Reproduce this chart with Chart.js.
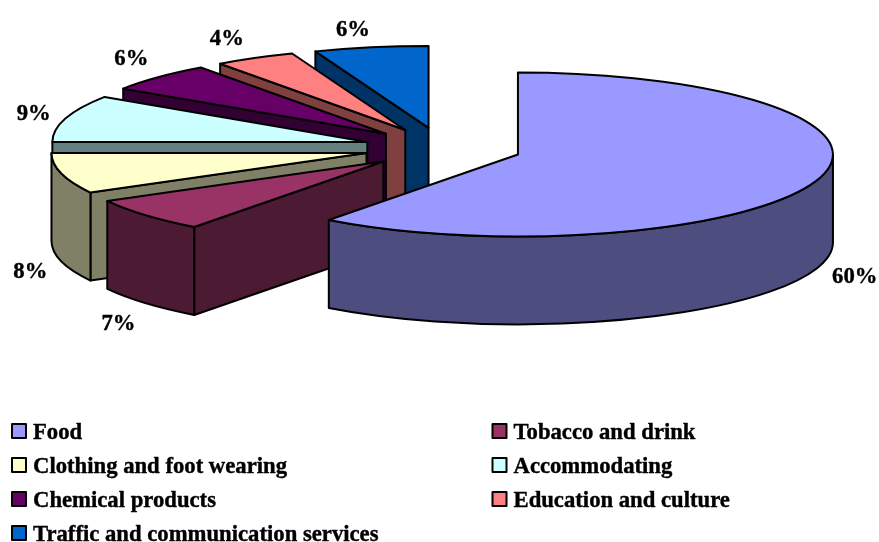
<!DOCTYPE html>
<html>
<head>
<meta charset="utf-8">
<style>html,body{margin:0;padding:0;background:#fff}canvas{display:block}</style>
<script src="https://cdn.jsdelivr.net/npm/chart.js@4"></script>
</head>
<body>
<canvas id="c" width="879" height="542"></canvas>
<script>
const categories = ['Food','Tobacco and drink','Clothing and foot wearing','Accommodating','Chemical products','Education and culture','Traffic and communication services'];
const shares = [60.25,6.75,8.0,9.3,5.7,4.15,5.85];
const colors = ['#9999FF','#993366','#FFFFCC','#CCFFFF','#660066','#FF8080','#0066CC'];
const wallColors = ['#4D4D80','#4D1A33','#808066','#668080','#330033','#804040','#003366'];
const labelNudges = [[38,9],[-27,21],[-31,11],[-32,-4],[-27,-18],[-28,-19],[-18,-17]];

const TILT = 0.26, DEPTH = 88, LINE = 2, EXPLODE = 79;
const FONT = 'bold 22.7px "Liberation Serif"';
const LEGEND = {cols:[12,492.5], rowY:[431,465,499,533], box:14, gap:7, textShift:2};

function sliceGeom(chart,i){
  const arc = chart.getDatasetMeta(0).data[i];
  const p = arc.getProps(['x','y','startAngle','endAngle','outerRadius'],true);
  const mid = (p.startAngle+p.endAngle)/2;
  return {arc,a0:p.startAngle,a1:p.endAngle,mid,R:p.outerRadius,px:p.x,py:p.y,
    cx:p.x+Math.cos(mid)*EXPLODE, cy:p.y+Math.sin(mid)*EXPLODE*TILT};
}
function face(ctx,g,a){
  const x=g.cx+g.R*Math.cos(a), y=g.cy+g.R*TILT*Math.sin(a);
  ctx.beginPath();
  ctx.moveTo(g.cx,g.cy);ctx.lineTo(x,y);ctx.lineTo(x,y+DEPTH);ctx.lineTo(g.cx,g.cy+DEPTH);ctx.closePath();
  ctx.fill();ctx.stroke();
}
function boldText(ctx,t,x,y){
  ctx.fillText(t,x,y);
  ctx.save();ctx.lineWidth=0.4;ctx.strokeText(t,x,y);ctx.restore();
}
const pie3d = {
  id:'pie3d',
  beforeDatasetDraw(){ return false; },
  afterDatasetsDraw(chart){
    const ctx=chart.ctx;
    ctx.save();
    ctx.lineWidth=LINE;ctx.strokeStyle='#000';ctx.lineJoin='round';
    for(let i=shares.length-1;i>=0;i--){
      const g=sliceGeom(chart,i);
      ctx.fillStyle=wallColors[i];
      if(Math.cos(g.a1)>1e-6) face(ctx,g,g.a1);
      if(Math.cos(g.a0)<-1e-6) face(ctx,g,g.a0);
      const s=Math.max(g.a0,0), e=Math.min(g.a1,Math.PI);
      if(e>s){
        ctx.beginPath();
        ctx.ellipse(g.cx,g.cy,g.R,g.R*TILT,0,s,e);
        ctx.ellipse(g.cx,g.cy+DEPTH,g.R,g.R*TILT,0,e,s,true);
        ctx.closePath();ctx.fill();ctx.stroke();
      }
    }
    for(let i=0;i<shares.length;i++){
      const g=sliceGeom(chart,i);
      ctx.save();
      ctx.translate(g.cx,g.cy);ctx.scale(1,TILT);ctx.translate(-g.px,-g.py);
      g.arc.draw(ctx);
      ctx.restore();
      ctx.beginPath();ctx.moveTo(g.cx,g.cy);
      ctx.ellipse(g.cx,g.cy,g.R,g.R*TILT,0,g.a0,g.a1);
      ctx.closePath();ctx.stroke();
    }
    ctx.font=FONT;ctx.fillStyle='#000';ctx.textAlign='center';ctx.textBaseline='middle';
    shares.forEach((v,i)=>{
      const g=sliceGeom(chart,i), sn=Math.sin(g.mid);
      const x=g.cx+g.R*Math.cos(g.mid)+labelNudges[i][0];
      const y=g.cy+g.R*TILT*sn+(sn>0?DEPTH:0)+labelNudges[i][1];
      boldText(ctx,Math.round(v)+'%',x,y);
    });
    ctx.textAlign='left';
    categories.forEach((name,i)=>{
      const x=LEGEND.cols[i%2], y=LEGEND.rowY[Math.floor(i/2)];
      ctx.fillStyle=colors[i];
      ctx.fillRect(x,y-LEGEND.box/2,LEGEND.box,LEGEND.box);
      ctx.strokeRect(x,y-LEGEND.box/2,LEGEND.box,LEGEND.box);
      ctx.fillStyle='#000';
      boldText(ctx,name,x+LEGEND.box+LEGEND.gap,y+LEGEND.textShift);
    });
    ctx.restore();
  }
};
new Chart(document.getElementById('c'),{
  type:'pie',
  data:{labels:categories,datasets:[{data:shares,backgroundColor:colors,borderWidth:0,clip:false}]},
  options:{
    responsive:false,animation:false,radius:315,
    layout:{padding:{left:7,right:0,top:0,bottom:246}},
    plugins:{legend:{display:false},tooltip:{enabled:false}},
    events:[]
  },
  plugins:[pie3d]
});
</script>
</body>
</html>
